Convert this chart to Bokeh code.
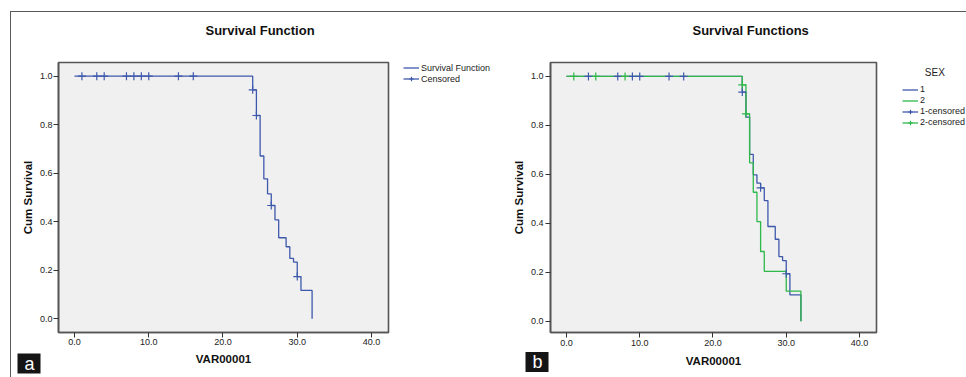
from bokeh.plotting import figure
from bokeh.models import (Range1d, FixedTicker, NumeralTickFormatter, Legend, LegendItem, Title, Label)
from bokeh.layouts import row
from bokeh.embed import file_html
from bokeh.resources import INLINE

# ---------------- data ----------------
# Panel a: overall Kaplan-Meier curve
a_time = [0.0, 24.0, 24.5, 25.0, 25.5, 26.0, 26.5, 27.0, 27.5, 28.5, 29.0, 29.5, 30.0, 30.5, 32.0]
a_surv = [1.0, 0.944, 0.838, 0.671, 0.577, 0.515, 0.467, 0.408, 0.334, 0.297, 0.249, 0.234, 0.174, 0.117, 0.0]
a_cens_time = [1, 3, 4, 7, 8, 9, 10, 14, 16, 24.0, 24.5, 26.5, 30.0]
a_cens_surv = [1.0, 1.0, 1.0, 1.0, 1.0, 1.0, 1.0, 1.0, 1.0, 0.944, 0.838, 0.467, 0.174]

# Panel b: by SEX
b1_time = [0.0, 24.0, 24.5, 25.0, 25.5, 26.0, 26.5, 27.0, 27.5, 28.5, 29.0, 29.5, 30.0, 30.5, 32.0]
b1_surv = [1.0, 0.936, 0.834, 0.682, 0.598, 0.564, 0.545, 0.493, 0.387, 0.335, 0.264, 0.248, 0.194, 0.108, 0.0]
b1_cens_time = [3, 7, 9, 10, 14, 16, 24.0, 26.5, 30.0]
b1_cens_surv = [1.0, 1.0, 1.0, 1.0, 1.0, 1.0, 0.936, 0.545, 0.194]

b2_time = [0.0, 24.0, 24.5, 25.0, 25.5, 26.0, 26.5, 27.0, 30.0, 32.0]
b2_surv = [1.0, 0.966, 0.847, 0.647, 0.527, 0.407, 0.285, 0.204, 0.123, 0.0]
b2_cens_time = [1, 4, 8, 24.0, 24.5]
b2_cens_surv = [1.0, 1.0, 1.0, 0.966, 0.847]

x_ticks = [0, 10, 20, 30, 40]
y_ticks = [0.0, 0.2, 0.4, 0.6, 0.8, 1.0]

title_a = "Survival Function"
title_b = "Survival Functions"
x_label = "VAR00001"
y_label = "Cum Survival"
legend_a = ["Survival Function", "Censored"]
legend_b_title = "SEX"
legend_b = ["1", "2", "1-censored", "2-censored"]
tags = ["a", "b"]

# ---------------- style ----------------
FONT = "Liberation Sans"
BLUE = "#3E58AC"
GREEN = "#2EB848"
FRAME = "#555555"
BG = "#F0F0F0"
H = 377
TOP = 62
BOTTOM = 45


def make_fig(width, xr, yr, ml, mr, tick_out, lab_stand, axlab_stand):
    p = figure(width=width, height=H, x_range=Range1d(*xr), y_range=Range1d(*yr),
               output_backend="svg", toolbar_location=None,
               min_border_left=ml, min_border_right=mr, min_border_top=TOP, min_border_bottom=BOTTOM)
    p.background_fill_color = BG
    p.border_fill_color = None
    p.outline_line_color = FRAME
    p.outline_line_width = 1.6
    p.xgrid.visible = False
    p.ygrid.visible = False
    for ax in (p.xaxis[0], p.yaxis[0]):
        ax.axis_line_color = FRAME
        ax.axis_line_width = 1.6
        ax.major_tick_line_color = "#333333"
        ax.major_tick_line_width = 1
        ax.major_tick_out = tick_out
        ax.major_tick_in = 0
        ax.minor_tick_line_color = None
        ax.major_label_text_font = FONT
        ax.major_label_text_font_size = "9px"
        ax.major_label_text_color = "#222222"
        ax.major_label_standoff = lab_stand
        ax.axis_label_text_font = FONT
        ax.axis_label_text_font_style = "bold"
        ax.axis_label_text_font_size = "11.5px"
        ax.axis_label_text_color = "#111111"
        ax.formatter = NumeralTickFormatter(format="0.0")
    p.xaxis[0].ticker = FixedTicker(ticks=x_ticks)
    p.yaxis[0].ticker = FixedTicker(ticks=y_ticks)
    p.xaxis[0].axis_label = x_label
    p.yaxis[0].axis_label = y_label
    p.xaxis[0].axis_label_standoff = axlab_stand
    p.yaxis[0].axis_label_standoff = 3
    return p


def legend_fig(width):
    q = figure(width=width, height=H, x_range=Range1d(0, 1), y_range=Range1d(0, 1),
               output_backend="svg", toolbar_location=None,
               min_border_left=0, min_border_right=0, min_border_top=TOP, min_border_bottom=BOTTOM)
    q.axis.visible = False
    q.grid.visible = False
    q.outline_line_color = None
    q.background_fill_color = None
    q.border_fill_color = None
    return q


def add_title(p, text, offset):
    p.add_layout(Title(text=text, align="left", offset=offset, vertical_align="top", standoff=45,
                       text_font=FONT, text_font_size="13px", text_font_style="bold",
                       text_color="#111111"), "above")


def add_tag(p, text, offset, standoff):
    p.add_layout(Title(text=text, align="left", offset=offset, vertical_align="top", standoff=standoff,
                       text_font=FONT, text_font_size="18px", text_font_style="normal",
                       text_color="white", background_fill_color="#151515",
                       padding=dict(left=7, right=6, top=0, bottom=0)), "below")


def make_legend(items, loc):
    return Legend(items=items, location=loc, orientation="vertical",
                  glyph_width=16, glyph_height=11, label_height=11, label_standoff=2,
                  spacing=0, padding=0, margin=0,
                  label_text_font=FONT, label_text_font_size="9px", label_text_color="#222222",
                  background_fill_alpha=0, border_line_alpha=0)


# ---------------- panel a ----------------
pa = make_fig(395, (-2.155, 42.29), (-0.0565, 1.0565), 58, 7, 5, 1, 5)
pa.step(a_time, a_surv, mode="after", line_color=BLUE, line_width=1.3)
pa.scatter(a_cens_time, a_cens_surv, marker="cross", size=8, line_color=BLUE, line_width=1.2)
add_title(pa, title_a, 147)
add_tag(pa, tags[0], -41, -28)

# legend for panel a: hidden copies of the series, used only as legend samples
la = legend_fig(97)
la_line = la.step(a_time, a_surv, mode="after", line_color=BLUE, line_width=1.3, visible=False)
la_cens = la.scatter(a_cens_time, a_cens_surv, marker="cross", size=8, line_color=BLUE,
                     line_width=1.2, visible=False)
la.add_layout(make_legend([LegendItem(label=legend_a[0], renderers=[la_line]),
                           LegendItem(label=legend_a[1], renderers=[la_line, la_cens])],
                          (8, 248)))

# ---------------- panel b ----------------
pb = make_fig(398, (-2.18, 42.32), (-0.046, 1.057), 58, 14, 5, 2, 6)
pb.step(b1_time, b1_surv, mode="after", line_color=BLUE, line_width=1.3)
pb.step(b2_time, b2_surv, mode="after", line_color=GREEN, line_width=1.3)
pb.scatter(b1_cens_time, b1_cens_surv, marker="cross", size=8, line_color=BLUE, line_width=1.2)
pb.scatter(b2_cens_time, b2_cens_surv, marker="cross", size=8, line_color=GREEN, line_width=1.2)
add_title(pb, title_b, 142)
add_tag(pb, tags[1], -25, -35)

# legend for panel b: hidden copies of the series, used only as legend samples
lb = legend_fig(76)
lb1_line = lb.step(b1_time, b1_surv, mode="after", line_color=BLUE, line_width=1.3, visible=False)
lb2_line = lb.step(b2_time, b2_surv, mode="after", line_color=GREEN, line_width=1.3, visible=False)
lb1_cens = lb.scatter(b1_cens_time, b1_cens_surv, marker="cross", size=8, line_color=BLUE,
                      line_width=1.2, visible=False)
lb2_cens = lb.scatter(b2_cens_time, b2_cens_surv, marker="cross", size=8, line_color=GREEN,
                      line_width=1.2, visible=False)
lb.add_layout(make_legend([LegendItem(label=legend_b[0], renderers=[lb1_line]),
                           LegendItem(label=legend_b[1], renderers=[lb2_line]),
                           LegendItem(label=legend_b[2], renderers=[lb1_line, lb1_cens]),
                           LegendItem(label=legend_b[3], renderers=[lb2_line, lb2_cens])],
                          (12, 204.5)))
lb.add_layout(Label(x=44.3, y=260, x_units="screen", y_units="screen", text=legend_b_title,
                    text_font=FONT, text_font_size="10px", text_color="#222222",
                    text_align="center", text_baseline="middle"))

frame_lines = ("linear-gradient(#5a5a5a,#5a5a5a) 10px 11px / 956px 1px no-repeat, "
               "linear-gradient(#5a5a5a,#5a5a5a) 10px 11px / 1px 366px no-repeat, white")
layout = row(pa, la, pb, lb, styles={"background": frame_lines})

open("out.html", "w").write(file_html(layout, INLINE))
